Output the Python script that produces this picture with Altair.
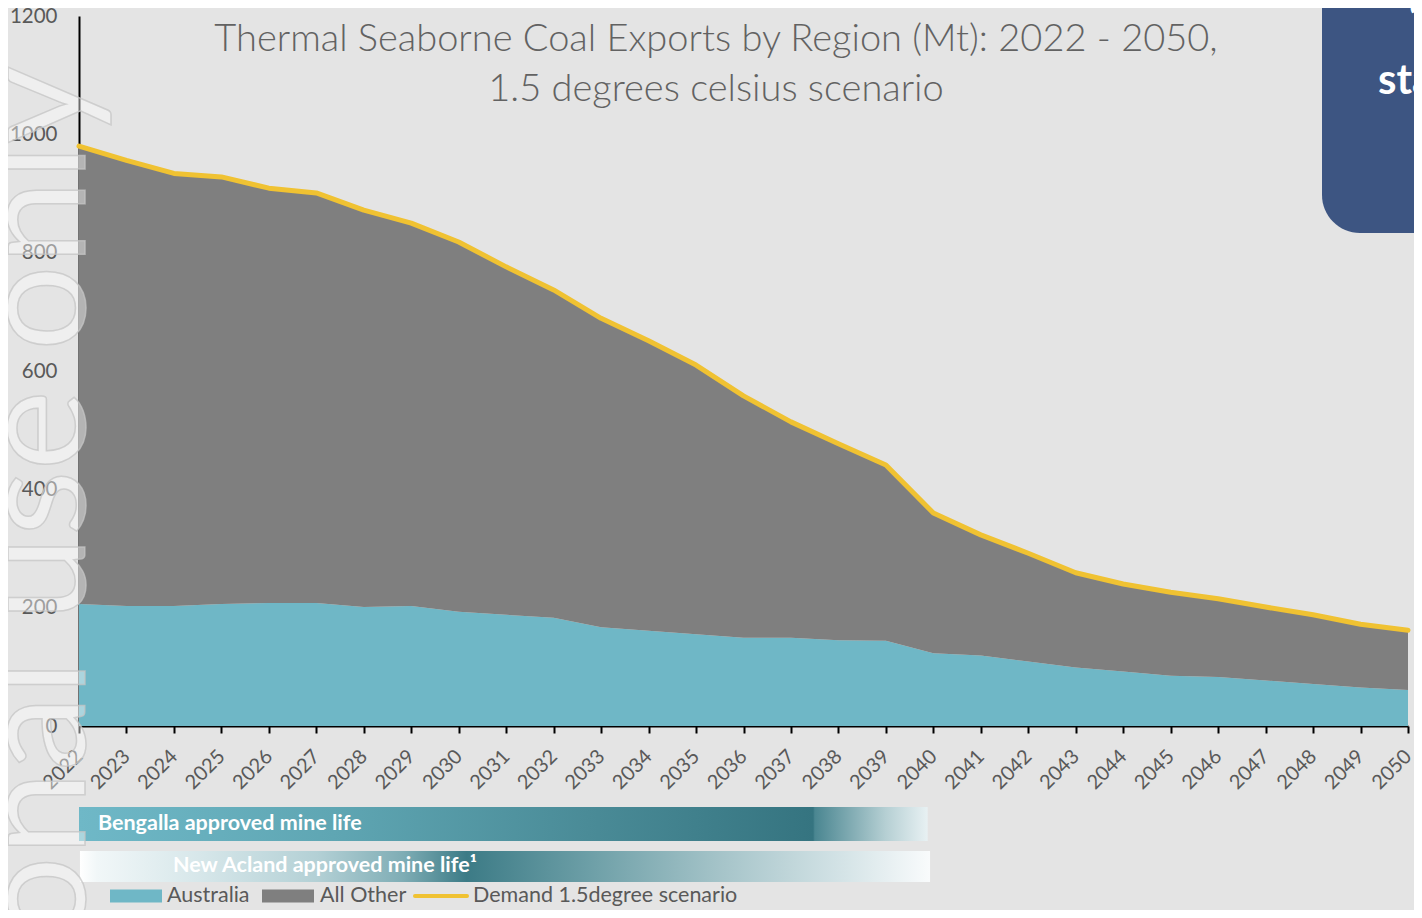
import altair as alt
import pandas as pd

# ---------------- data ----------------
years = list(range(2022, 2051))
australia = [206, 203, 203, 206, 208, 208, 201, 203, 193, 188, 183, 167, 161, 155, 149,
             149, 145, 144, 123, 119, 109, 99, 92, 85, 83, 77, 71, 65, 61]
all_other = [774, 753, 731, 722, 701, 693, 671, 647, 625, 588, 554, 522, 490, 455, 409,
             365, 332, 297, 237, 204, 183, 160, 148, 141, 132, 124, 117, 107, 101]
demand = [980, 956, 934, 928, 909, 901, 872, 850, 818, 776, 737, 689, 651, 610, 558,
          514, 477, 441, 360, 323, 292, 259, 240, 226, 215, 201, 188, 172, 162]

series_names = ["Australia", "All Other"]
series_colors = ["#6fb7c6", "#7f7f7f"]
demand_name = "Demand 1.5degree scenario"
demand_color = "#f0c232"

y_ticks = [0, 200, 400, 600, 800, 1000, 1200]

title_lines = ["Thermal Seaborne Coal Exports by Region (Mt): 2022 - 2050,",
               "1.5 degrees celsius scenario"]

mine_names = ["Bengalla approved mine life", "New Acland approved mine life\u00b9"]
mine_start = [2022.0, 2022.02]
mine_end = [2039.88, 2039.93]

watermark = "For personal use only"

# ---------------- tables ----------------
rows = []
for i, y in enumerate(years):
    rows.append({"year": y, "series": series_names[0], "value": australia[i], "ord": 0})
    rows.append({"year": y, "series": series_names[1], "value": all_other[i], "ord": 1})
area_df = pd.DataFrame(rows)
line_df = pd.DataFrame({"year": years, "value": demand})

TXT = "#595959"
FONT = "Lato"
PW = 1329  # plot width

x_enc = alt.X(
    "year:Q",
    scale=alt.Scale(domain=[2022, 2050], nice=False, zero=False),
    axis=alt.Axis(
        values=years, format="d", labelAngle=-45, title=None, grid=False,
        domainColor="black", domainWidth=2, tickColor="black", tickWidth=2,
        tickSize=7, labelFontSize=20, labelColor=TXT, labelFont=FONT,
        labelPadding=20, labelAlign="right", labelBaseline="middle",
        labelOverlap=False,
    ),
)
y_axis = alt.Axis(
    values=y_ticks, format="d", title=None, grid=False, ticks=False, domainColor="black",
    domainWidth=2, labelFontSize=20.5, labelColor=TXT, labelFont=FONT,
    labelPadding=22,
)

areas = alt.Chart(area_df).mark_area(opacity=1).encode(
    x=x_enc,
    y=alt.Y("value:Q", stack="zero",
            scale=alt.Scale(domain=[0, 1200], nice=False), axis=y_axis),
    color=alt.Color("series:N", scale=alt.Scale(domain=series_names, range=series_colors),
                    legend=None),
    order=alt.Order("ord:Q"),
)

line = alt.Chart(line_df).mark_line(
    color=demand_color, strokeWidth=5, strokeCap="round", strokeJoin="round"
).encode(x="year:Q", y="value:Q")

# title inside plot area
title_df = pd.DataFrame({"t": title_lines, "yy": [35, 85]})
titles = alt.Chart(title_df).mark_text(
    font=FONT, fontSize=38, fontWeight=300, color="#626262", align="center",
    baseline="alphabetic"
).encode(text="t:N", x=alt.value(637), y=alt.Y("yy:Q", scale=None))

# mine life bars
beng_df = pd.DataFrame({"year": [mine_start[0]], "year_end": [mine_end[0]]})
acl_df = pd.DataFrame({"year": [mine_start[1]], "year_end": [mine_end[1]]})
beng_grad = {"gradient": "linear", "x1": 0, "x2": 1, "y1": 0, "y2": 0, "stops": [
    {"offset": 0.0, "color": "#6fb8c7"},
    {"offset": 0.3, "color": "#5fa6b3"},
    {"offset": 0.6, "color": "#4a8b97"},
    {"offset": 0.865, "color": "#357480"},
    {"offset": 0.867, "color": "#4a8691"},
    {"offset": 0.95, "color": "#b5cfd3"},
    {"offset": 1.0, "color": "#e8f1f3"},
]}
acl_grad = {"gradient": "linear", "x1": 0, "x2": 1, "y1": 0, "y2": 0, "stops": [
    {"offset": 0.0, "color": "#ffffff"},
    {"offset": 0.02, "color": "#f1f7f8"},
    {"offset": 0.14, "color": "#d7e7ea"},
    {"offset": 0.28, "color": "#b3d0d5"},
    {"offset": 0.38, "color": "#7fadb5"},
    {"offset": 0.455, "color": "#3c7b86"},
    {"offset": 0.6, "color": "#6d9fa7"},
    {"offset": 0.75, "color": "#a4c3c8"},
    {"offset": 0.9, "color": "#d5e4e7"},
    {"offset": 1.0, "color": "#f9fbfc"},
]}
beng = alt.Chart(beng_df).mark_rect(color=beng_grad).encode(
    x="year:Q", x2="year_end:Q", y=alt.value(791), y2=alt.value(825))
acl = alt.Chart(acl_df).mark_rect(color=acl_grad).encode(
    x="year:Q", x2="year_end:Q", y=alt.value(835), y2=alt.value(866))
beng_txt = alt.Chart(pd.DataFrame({"t": [mine_names[0]]})).mark_text(
    font=FONT, fontSize=21.5, fontWeight="bold", color="white", align="left",
    baseline="middle"
).encode(text="t:N", x=alt.value(19), y=alt.value(808))
acl_txt = alt.Chart(pd.DataFrame({"t": [mine_names[1]]})).mark_text(
    font=FONT, fontSize=21.5, fontWeight="bold", color="white", align="left",
    baseline="middle"
).encode(text="t:N", x=alt.value(94), y=alt.value(850))

# manual legend
LY = 880
leg_rect1 = alt.Chart(pd.DataFrame({"a": [0]})).mark_rect(color=series_colors[0]).encode(
    x=alt.value(31), x2=alt.value(83), y=alt.value(LY - 6.5), y2=alt.value(LY + 6.5))
leg_rect2 = alt.Chart(pd.DataFrame({"a": [0]})).mark_rect(color=series_colors[1]).encode(
    x=alt.value(183), x2=alt.value(235), y=alt.value(LY - 6.5), y2=alt.value(LY + 6.5))
leg_line = alt.Chart(pd.DataFrame({"a": [0]})).mark_rule(
    color=demand_color, strokeWidth=4, strokeCap="round").encode(
    x=alt.value(336), x2=alt.value(388), y=alt.value(LY))
leg_df = pd.DataFrame({"t": [series_names[0], series_names[1], demand_name],
                       "xx": [88, 241, 394]})
leg_txt = alt.Chart(leg_df).mark_text(
    font=FONT, fontSize=21.5, color=TXT, align="left", baseline="middle"
).encode(text="t:N", x=alt.X("xx:Q", scale=None), y=alt.value(LY))

# top-right callout box
box = alt.Chart(pd.DataFrame({"a": [0]})).mark_rect(color="#3d5582", cornerRadius=38).encode(
    x=alt.value(1243), x2=alt.value(1420), y=alt.value(-80), y2=alt.value(217))
box_txt = alt.Chart(pd.DataFrame({"t": ["sta"]})).mark_text(
    font=FONT, fontSize=42, fontWeight="bold", color="white", align="left",
    baseline="alphabetic").encode(text="t:N", x=alt.value(1299), y=alt.value(78))
box_q = alt.Chart(pd.DataFrame({"t": ["\u201c"]})).mark_text(
    font=FONT, fontSize=40, fontWeight="bold", color="white", align="left",
    baseline="alphabetic").encode(text="t:N", x=alt.value(1330), y=alt.value(16))

# watermark
wm = alt.Chart(pd.DataFrame({"t": [watermark]})).mark_text(
    font=FONT, fontSize=152, fontWeight="normal", angle=270, align="right",
    baseline="alphabetic", fill="#ffffff", fillOpacity=0.42, stroke="#c4c4c4",
    strokeWidth=1.5, strokeOpacity=0.75
).encode(text="t:N", x=alt.value(6), y=alt.value(50))

chart = alt.layer(
    areas, line, titles, beng, acl, beng_txt, acl_txt,
    leg_rect1, leg_rect2, leg_line, leg_txt, box, box_txt, box_q, wm
).properties(
    width=PW, height=710,
    background="#e4e4e4",
    padding={"left": 71, "top": 8, "right": 6, "bottom": 184},
    autosize=alt.AutoSizeParams(type="none"),
).configure_view(stroke=None)

chart.save("out.html", embed_options={"renderer": "svg", "actions": False})
